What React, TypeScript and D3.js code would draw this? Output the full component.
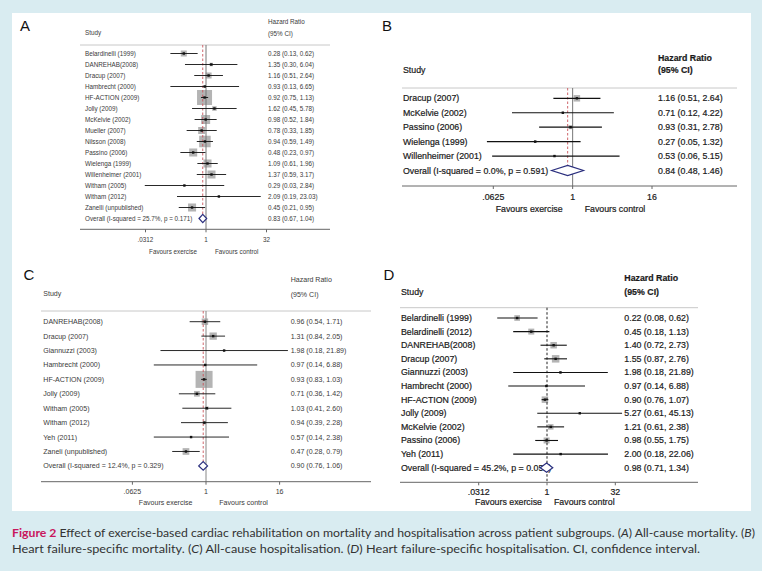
import React from "react";
import * as d3 from "d3";

// ---------- DATA ----------
// Panel A: All-cause mortality
const aStudies = ["Belardinelli (1999)", "DANREHAB(2008)", "Dracup (2007)", "Hambrecht (2000)", "HF-ACTION (2009)", "Jolly (2009)", "McKelvie (2002)", "Mueller (2007)", "Nilsson (2008)", "Passino (2006)", "Wielenga (1999)", "Willenheimer (2001)", "Witham (2005)", "Witham (2012)", "Zanelli (unpublished)"];
const aHR = [0.28, 1.35, 1.16, 0.93, 0.92, 1.62, 0.98, 0.78, 0.94, 0.48, 1.09, 1.37, 0.29, 2.09, 0.45];
const aLower = [0.13, 0.30, 0.51, 0.13, 0.75, 0.45, 0.52, 0.33, 0.59, 0.23, 0.61, 0.59, 0.03, 0.19, 0.21];
const aUpper = [0.62, 6.04, 2.64, 6.65, 1.13, 5.78, 1.84, 1.85, 1.49, 0.97, 1.96, 3.17, 2.84, 23.03, 0.95];
const aWeight = [4.2, 1.4, 4.2, 0.7, 26.2, 2.4, 9.4, 5.7, 15.4, 7.5, 7.5, 7.5, 0.2, 0.3, 7.5];
const aOverall = { label: "Overall (I-squared = 25.7%, p = 0.171)", hr: 0.83, lo: 0.67, hi: 1.04 };
const aTicks = [1 / 32, 1, 32];
const aTickLabels = [".0312", "1", "32"];

// Panel B: Heart failure-specific mortality
const bStudies = ["Dracup (2007)", "McKelvie (2002)", "Passino (2006)", "Wielenga (1999)", "Willenheimer (2001)"];
const bHR = [1.16, 0.71, 0.93, 0.27, 0.53];
const bLower = [0.51, 0.12, 0.31, 0.05, 0.06];
const bUpper = [2.64, 4.22, 2.78, 1.32, 5.15];
const bWeight = [59.7, 5.7, 22.6, 8.8, 3.2];
const bOverall = { label: "Overall (I-squared = 0.0%, p = 0.591)", hr: 0.84, lo: 0.48, hi: 1.46 };
const bTicks = [1 / 16, 1, 16];
const bTickLabels = [".0625", "1", "16"];

// Panel C: All-cause hospitalisation
const cStudies = ["DANREHAB(2008)", "Dracup (2007)", "Giannuzzi (2003)", "Hambrecht (2000)", "HF-ACTION (2009)", "Jolly (2009)", "Witham (2005)", "Witham (2012)", "Yeh (2011)", "Zaneli (unpublished)"];
const cHR = [0.96, 1.31, 1.98, 0.97, 0.93, 0.71, 1.03, 0.94, 0.57, 0.47];
const cLower = [0.54, 0.84, 0.18, 0.14, 0.83, 0.36, 0.41, 0.39, 0.14, 0.28];
const cUpper = [1.71, 2.05, 21.89, 6.88, 1.03, 1.42, 2.60, 2.28, 2.38, 0.79];
const cWeight = [8.5, 10.8, 0.5, 0.5, 58.4, 6.6, 2.5, 2.5, 0.8, 9.1];
const cOverall = { label: "Overall (I-squared = 12.4%, p = 0.329)", hr: 0.90, lo: 0.76, hi: 1.06 };
const cTicks = [1 / 16, 1, 16];
const cTickLabels = [".0625", "1", "16"];

// Panel D: Heart failure-specific hospitalisation
const dStudies = ["Belardinelli (1999)", "Belardinelli (2012)", "DANREHAB(2008)", "Dracup (2007)", "Giannuzzi (2003)", "Hambrecht (2000)", "HF-ACTION (2009)", "Jolly (2009)", "McKelvie (2002)", "Passino (2006)", "Yeh (2011)"];
const dHR = [0.22, 0.45, 1.40, 1.55, 1.98, 0.97, 0.90, 5.27, 1.21, 0.98, 2.00];
const dLower = [0.08, 0.18, 0.72, 0.87, 0.18, 0.14, 0.76, 0.61, 0.61, 0.55, 0.18];
const dUpper = [0.62, 1.13, 2.73, 2.76, 21.89, 6.88, 1.07, 45.13, 2.38, 1.75, 22.06];
const dWeight = [11.2, 12.4, 14.6, 19.4, 1.4, 1.4, 14.6, 0.8, 10.4, 12.4, 1.4];
const dOverall = { label: "Overall (I-squared = 45.2%, p = 0.051)", hr: 0.98, lo: 0.71, hi: 1.34 };
const dTicks = [1 / 32, 1, 32];
const dTickLabels = [".0312", "1", "32"];

// ---------- LAYOUT ----------
const W = 762;
const H = 571;
const BG = "#d9ecf1";
const PLOT_FONT = "'Liberation Sans', Arial, Helvetica, sans-serif";
const CAPTION_FONT = "Lato, 'Open Sans', sans-serif";

type Cfg = {
  letter: string; letterX: number; letterY: number;
  fontSize: number; textColor: string; headerBold: boolean; textStroke: number;
  studyX: number; estX: number; headerY1: number; headerY2: number; studyHeaderY: number;
  topLineY: number; lineX0: number; lineX1: number;
  rowY0: number; rowY1: number; axisY: number; tickLabelY: number; favoursY: number;
  favGapL: number; favGapR: number;
  domain: [number, number]; xRange: [number, number];
  maxBox: number; diamondH: number; lineW: number;
  nullColor: string; nullDash: string | null; showOverallLine: boolean;
};

const cfgA: Cfg = {
  letter: "A", letterX: 25, letterY: 25, fontSize: 6.3, textColor: "#3a3a3a", headerBold: false, textStroke: 0,
  studyX: 85, estX: 268, headerY1: 21, headerY2: 33, studyHeaderY: 32,
  topLineY: 45, lineX0: 80, lineX1: 330, rowY0: 53.5, rowY1: 218.5, axisY: 229.3, tickLabelY: 239, favoursY: 251,
  favGapL: 9, favGapR: 9, domain: [1 / 32, 32], xRange: [145.5, 266.5],
  maxBox: 15, diamondH: 4.2, lineW: 0.9, nullColor: "#777", nullDash: null, showOverallLine: true,
};
const cfgB: Cfg = {
  letter: "B", letterX: 387, letterY: 25, fontSize: 8.8, textColor: "#1a1a1a", headerBold: true, textStroke: 0.2,
  studyX: 403, estX: 658, headerY1: 58, headerY2: 70, studyHeaderY: 70,
  topLineY: 88, lineX0: 402, lineX1: 737, rowY0: 98.3, rowY1: 170.5, axisY: 186, tickLabelY: 196.7, favoursY: 208.5,
  favGapL: 10, favGapR: 12, domain: [1 / 16, 16], xRange: [493.3, 652],
  maxBox: 6.5, diamondH: 5, lineW: 1.2, nullColor: "#777", nullDash: null, showOverallLine: true,
};
const cfgC: Cfg = {
  letter: "C", letterX: 29, letterY: 274, fontSize: 7.05, textColor: "#3a3a3a", headerBold: false, textStroke: 0,
  studyX: 43.3, estX: 290.7, headerY1: 279, headerY2: 294, studyHeaderY: 293.3,
  topLineY: 311, lineX0: 41, lineX1: 371, rowY0: 321.7, rowY1: 465.9, axisY: 481.7, tickLabelY: 491, favoursY: 502.3,
  favGapL: 13.5, favGapR: 13.3, domain: [1 / 16, 16], xRange: [132.4, 279.6],
  maxBox: 17, diamondH: 4.3, lineW: 0.9, nullColor: "#888", nullDash: null, showOverallLine: true,
};
const cfgD: Cfg = {
  letter: "D", letterX: 389, letterY: 274, fontSize: 8.8, textColor: "#1a1a1a", headerBold: true, textStroke: 0.2,
  studyX: 401, estX: 624.3, headerY1: 278, headerY2: 291.5, studyHeaderY: 291.7,
  topLineY: 307.7, lineX0: 400, lineX1: 698, rowY0: 318, rowY1: 467.7, axisY: 482.3, tickLabelY: 491.7, favoursY: 502.3,
  favGapL: 5, favGapR: 7, domain: [1 / 32, 32], xRange: [478.7, 615.3],
  maxBox: 7.5, diamondH: 4.6, lineW: 1.1, nullColor: "#222", nullDash: "2.5,2", showOverallLine: false,
};

type PanelProps = {
  cfg: Cfg; studies: string[]; hr: number[]; lo: number[]; hi: number[]; weight: number[];
  overall: { label: string; hr: number; lo: number; hi: number };
  ticks: number[]; tickLabels: string[];
};

const fmt = (v: number) => v.toFixed(2);

function Forest({ cfg, studies, hr, lo, hi, weight, overall, ticks, tickLabels }: PanelProps) {
  const x = d3.scaleLog().base(2).domain(cfg.domain).range(cfg.xRange);
  const rows = [...studies, overall.label];
  const y = d3.scalePoint<string>().domain(rows).range([cfg.rowY0, cfg.rowY1]);
  const box = d3.scaleSqrt().domain([0, d3.max(weight) as number]).range([0, cfg.maxBox]);
  const fs = cfg.fontSize;
  const oy = y(overall.label) as number;
  const x1 = x(1);
  const xo = x(overall.hr);
  const diamond = [
    [x(overall.lo), oy], [xo, oy - cfg.diamondH], [x(overall.hi), oy], [xo, oy + cfg.diamondH],
  ].map((p) => p.join(",")).join(" ");
  const textProps: any = {
    fontFamily: PLOT_FONT, fontSize: fs, fill: cfg.textColor, dominantBaseline: "central",
    stroke: cfg.textStroke > 0 ? cfg.textColor : "none", strokeWidth: cfg.textStroke,
  };
  const hw = cfg.headerBold ? 700 : 400;

  return (
    <g>
      <text x={cfg.letterX} y={cfg.letterY} fontFamily={PLOT_FONT} fontSize={15} fill="#111" textAnchor="middle" dominantBaseline="central">{cfg.letter}</text>
      <text {...textProps} x={cfg.studyX} y={cfg.studyHeaderY}>Study</text>
      <text {...textProps} x={cfg.estX} y={cfg.headerY1} fontWeight={hw}>Hazard Ratio</text>
      <text {...textProps} x={cfg.estX} y={cfg.headerY2} fontWeight={hw}>(95% CI)</text>
      <line x1={cfg.lineX0} x2={cfg.lineX1} y1={cfg.topLineY} y2={cfg.topLineY} stroke="#c8c8c8" strokeWidth={1} />
      {studies.map((s, i) => {
        const sz = box(weight[i]);
        return <rect key={"b" + s} x={x(hr[i]) - sz / 2} y={(y(s) as number) - sz / 2} width={sz} height={sz} fill="#b4b4b4" />;
      })}
      <line x1={x1} x2={x1} y1={cfg.topLineY} y2={cfg.axisY} stroke={cfg.nullColor} strokeWidth={1} strokeDasharray={cfg.nullDash ?? undefined} />
      {cfg.showOverallLine && (
        <line x1={xo} x2={xo} y1={cfg.topLineY} y2={oy - cfg.diamondH} stroke="#c9545a" strokeWidth={0.9} strokeDasharray="2.5,2" />
      )}
      {studies.map((s, i) => {
        const yy = y(s) as number;
        return (
          <g key={"c" + s}>
            <line x1={x(lo[i])} x2={x(hi[i])} y1={yy} y2={yy} stroke="#111" strokeWidth={cfg.lineW} />
            <rect x={x(hr[i]) - 1.2} y={yy - 1.2} width={2.4} height={2.4} fill="#111" />
          </g>
        );
      })}
      {rows.map((s) => (
        <text key={"t" + s} {...textProps} x={cfg.studyX} y={y(s) as number}>{s}</text>
      ))}
      {studies.map((s, i) => (
        <text key={"e" + s} {...textProps} x={cfg.estX} y={y(s) as number}>{`${fmt(hr[i])} (${fmt(lo[i])}, ${fmt(hi[i])})`}</text>
      ))}
      <text {...textProps} x={cfg.estX} y={oy}>{`${fmt(overall.hr)} (${fmt(overall.lo)}, ${fmt(overall.hi)})`}</text>
      <polygon points={diamond} fill="#fff" stroke="#2b2f7e" strokeWidth={1.2} />
      <line x1={cfg.lineX0} x2={cfg.lineX1} y1={cfg.axisY} y2={cfg.axisY} stroke="#666" strokeWidth={1} />
      {ticks.map((t, i) => (
        <g key={"k" + i}>
          <line x1={x(t)} x2={x(t)} y1={cfg.axisY} y2={cfg.axisY + 3} stroke="#666" strokeWidth={1} />
          <text {...textProps} x={x(t)} y={cfg.tickLabelY} textAnchor="middle">{tickLabels[i]}</text>
        </g>
      ))}
      <text {...textProps} x={x1 - cfg.favGapL} y={cfg.favoursY} textAnchor="end">Favours exercise</text>
      <text {...textProps} x={x1 + cfg.favGapR} y={cfg.favoursY} textAnchor="start">Favours control</text>
    </g>
  );
}

export default function App() {
  return (
    <svg width={W} height={H} viewBox={`0 0 ${W} ${H}`} style={{ position: "absolute", left: 0, top: 0, display: "block" }}>
      <rect x={0} y={0} width={W} height={H} fill={BG} />
      <rect x={12} y={13} width={739} height={498} fill="#fff" />
      <Forest cfg={cfgA} studies={aStudies} hr={aHR} lo={aLower} hi={aUpper} weight={aWeight} overall={aOverall} ticks={aTicks} tickLabels={aTickLabels} />
      <Forest cfg={cfgB} studies={bStudies} hr={bHR} lo={bLower} hi={bUpper} weight={bWeight} overall={bOverall} ticks={bTicks} tickLabels={bTickLabels} />
      <Forest cfg={cfgC} studies={cStudies} hr={cHR} lo={cLower} hi={cUpper} weight={cWeight} overall={cOverall} ticks={cTicks} tickLabels={cTickLabels} />
      <Forest cfg={cfgD} studies={dStudies} hr={dHR} lo={dLower} hi={dUpper} weight={dWeight} overall={dOverall} ticks={dTicks} tickLabels={dTickLabels} />
      <text x={12} y={537} fontFamily={CAPTION_FONT} fontSize={12} fill="#333" textLength={743} lengthAdjust="spacingAndGlyphs">
        <tspan fill="#c8175d" fontWeight={700}>Figure 2</tspan>
        <tspan>{" Effect of exercise-based cardiac rehabilitation on mortality and hospitalisation across patient subgroups. ("}</tspan>
        <tspan fontStyle="italic">A</tspan>
        <tspan>{") All-cause mortality. ("}</tspan>
        <tspan fontStyle="italic">B</tspan>
        <tspan>)</tspan>
      </text>
      <text x={12} y={553} fontFamily={CAPTION_FONT} fontSize={12} fill="#333" textLength={688} lengthAdjust="spacingAndGlyphs">
        <tspan>{"Heart failure-specific mortality. ("}</tspan>
        <tspan fontStyle="italic">C</tspan>
        <tspan>{") All-cause hospitalisation. ("}</tspan>
        <tspan fontStyle="italic">D</tspan>
        <tspan>{") Heart failure-specific hospitalisation. CI, confidence interval."}</tspan>
      </text>
    </svg>
  );
}
